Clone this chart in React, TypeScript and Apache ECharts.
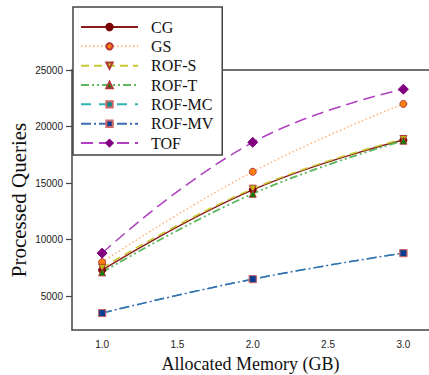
import React, { useEffect, useRef } from "react";
import * as echarts from "echarts";

const memory = [1.0, 2.0, 3.0];
const cg = [7300, 14400, 18800];
const gs = [8000, 16000, 22000];
const rofS = [7500, 14500, 18900];
const rofT = [7100, 14050, 18750];
const rofMC = [3500, 6500, 8800];
const rofMV = [3500, 6500, 8800];
const tof = [8800, 18600, 23300];
const xTicks = [1.0, 1.5, 2.0, 2.5, 3.0];
const yTicks = [5000, 10000, 15000, 20000, 25000];

const pairs = (ys: number[]) => memory.map((x, i) => [x, ys[i]]);

export default function App() {
  const ref = useRef<HTMLDivElement>(null);
  useEffect(() => {
    const chart = echarts.init(ref.current!, undefined, { renderer: "svg" });
    const mk = (
      name: string,
      data: number[],
      lineColor: string,
      fill: string,
      symbol: string,
      type: any,
      width = 1.5,
      edge = "#b03a3a"
    ) => ({
      name,
      type: "line",
      xAxisIndex: 0,
      data: pairs(data),
      smooth: 0.45,
      symbol,
      symbolSize: symbol === "diamond" ? 10 : 7,
      lineStyle: { color: lineColor, width, type },
      itemStyle: { color: fill, borderColor: edge, borderWidth: 1 },
      emphasis: { disabled: true },
    });
    const axisLineStyle = { color: "#444", width: 1.5 };
    chart.setOption({
      animation: false,
      grid: {
        left: 72,
        right: 0,
        top: 70,
        bottom: 45,
        outerBoundsMode: "none",
        containLabel: false,
      },
      legend: {
        left: 73,
        top: 7,
        orient: "vertical",
        backgroundColor: "#fff",
        borderColor: "#444",
        borderWidth: 1.5,
        borderRadius: 0,
        padding: [12, 9, 4, 7],
        itemWidth: 57,
        itemHeight: 8,
        itemGap: 3.34,
        textStyle: {
          fontFamily: "Liberation Serif",
          fontSize: 16,
          color: "#111",
          lineHeight: 10,
          padding: [0, 0, 0, 8],
        },
        data: ["CG", "GS", "ROF-S", "ROF-T", "ROF-MC", "ROF-MV", "TOF"],
      },
      xAxis: [
        {
          type: "value",
          min: 0.8,
          max: 3.17,
          name: "Allocated Memory (GB)",
          nameLocation: "middle",
          nameGap: 25,
          nameMoveOverlap: false,
          nameTextStyle: { fontFamily: "Liberation Serif", fontSize: 18, color: "#111" },
          axisLine: { show: true, lineStyle: axisLineStyle },
          axisTick: { show: false, customValues: xTicks },
          axisLabel: {
            customValues: xTicks,
            formatter: (v: number) => v.toFixed(1),
            fontFamily: "Liberation Sans",
            fontSize: 10,
            color: "#222",
            margin: 9,
          },
          splitLine: { show: false },
        },
        {
          type: "value",
          position: "top",
          min: 0.8,
          max: 3.17,
          axisLine: { show: true, onZero: false, lineStyle: axisLineStyle },
          axisTick: { show: false },
          axisLabel: { show: false },
          splitLine: { show: false },
        },
      ],
      yAxis: {
        type: "value",
        min: 2000,
        max: 25000,
        name: "Processed Queries",
        nameLocation: "middle",
        nameGap: 43,
        nameMoveOverlap: false,
        nameTextStyle: { fontFamily: "Liberation Serif", fontSize: 21, color: "#111" },
        axisLine: { show: true, lineStyle: axisLineStyle },
        axisTick: { show: true, length: 6, customValues: yTicks, lineStyle: { color: "#444", width: 1.2 } },
        axisLabel: {
          customValues: yTicks,
          formatter: (v: number) => String(v),
          fontFamily: "Liberation Sans",
          fontSize: 10,
          color: "#222",
          margin: 9,
        },
        splitLine: { show: false },
      },
      series: [
        mk("CG", cg, "#8b1a1a", "#7a0000", "circle", "solid", 1.5, "#7a0000"),
        mk("GS", gs, "#ffb27a", "#ff7f0e", "circle", [1.5, 2.5], 1.5),
        { ...mk("ROF-S", rofS, "#c8c832", "#bfbf00", "triangle", [8, 5], 1.5), symbolRotate: 180 },
        mk("ROF-T", rofT, "#5cb85c", "#008000", "triangle", [8, 3, 2, 3, 2, 3], 1.8),
        mk("ROF-MC", rofMC, "#2eb2b2", "#008b8b", "rect", [10, 8], 1.5, "#d06a6a"),
        mk("ROF-MV", rofMV, "#3b6db3", "#0b3d91", "rect", [10, 3, 2, 3], 1.5, "#d06a6a"),
        mk("TOF", tof, "#b040c0", "#800080", "diamond", [12, 6], 1.5, "#800080"),
      ],
    });
    return () => chart.dispose();
  }, []);
  return <div ref={ref} style={{ width: 429, height: 375, position: "absolute", left: 0, top: 0, background: "#fff" }} />;
}
